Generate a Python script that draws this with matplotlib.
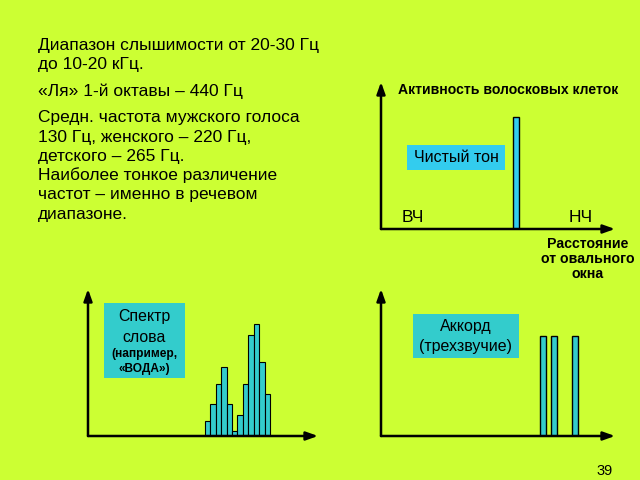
import matplotlib
matplotlib.use("Agg")
import matplotlib.pyplot as plt

plt.rcParams['font.family'] = ['Liberation Sans', 'DejaVu Sans']

# ---------------- data ----------------
intro_lines = ["Диапазон слышимости от 20-30 Гц", "до 10-20 кГц."]
la_lines = ["«Ля» 1-й октавы – 440 Гц"]
voice_lines = ["Средн. частота мужского голоса", "130 Гц, женского – 220 Гц,",
               "детского – 265 Гц.", "Наиболее тонкое различение",
               "частот – именно в речевом", "диапазоне."]

# pure tone (position along basilar membrane, 0..100; activity 0..100)
tone_pos = [57.7]
tone_height = [76]
tone_width = 2.6

# chord (triad)
chord_pos = [69.2, 73.9, 82.9]
chord_height = [68, 68, 68]

# word spectrum ("ВОДА")
spectrum_bins = list(range(12))
spectrum_height = [15, 32, 52, 69, 32, 5, 21, 52, 101, 112, 74, 42]

BG = '#ccff33'
TEAL = '#33cccc'
SKY = '#33ccee'

W, H = 640, 480
fig = plt.figure(figsize=(6.4, 4.8), dpi=100, facecolor=BG)


def fx(x):
    return x / W


def fy(y):
    return 1 - y / H


def make_axes(x0, y0, x1, ytop):
    ax = fig.add_axes([fx(x0), fy(y0), fx(x1 - x0), (y0 - ytop) / H])
    ax.set_facecolor('none')
    for s in ax.spines.values():
        s.set_visible(False)
    ax.set_xticks([])
    ax.set_yticks([])
    ap = dict(arrowstyle='-|>,head_length=0.7,head_width=0.25', lw=1.8,
              color='black', shrinkA=0, shrinkB=0)
    ax.annotate('', xy=(0, 1), xytext=(0, 0), xycoords='axes fraction', arrowprops=ap)
    ax.annotate('', xy=(1, 0), xytext=(0, 0), xycoords='axes fraction', arrowprops=ap)
    return ax


# ---- top right: pure tone ----
ax1 = make_axes(381, 229, 615, 82)
ax1.set_xlim(0, 100)
ax1.set_ylim(0, 100)
ax1.bar(tone_pos, tone_height, width=tone_width, color=SKY, edgecolor='black', lw=1)

# ---- bottom right: chord ----
ax2 = make_axes(381, 436, 615, 289)
ax2.set_xlim(0, 100)
ax2.set_ylim(0, 100)
ax2.bar(chord_pos, chord_height, width=tone_width, color=TEAL, edgecolor='black', lw=1)

# ---- bottom left: spectrum ----
ax3 = make_axes(88, 436, 318, 289)
ax3.set_xlim(-22.17, 20.4)
ax3.set_ylim(0, 147)
ax3.bar(spectrum_bins, spectrum_height, width=1.0, color=TEAL, edgecolor='black', lw=0.8)

# ---- left text block ----
fs = 12.5
line_centres = [44, 63, 90, 116, 136, 155, 174, 193, 213]
all_lines = intro_lines + la_lines + voice_lines
for txt, yc in zip(all_lines, line_centres):
    fig.text(fx(38), fy(yc + 6), txt, fontsize=fs, va='baseline', ha='left')

# ---- chart labels ----
fig.text(fx(398), fy(90), "Активность волосковых клеток", fontsize=10.1, weight='bold',
         va='center', ha='left')
fig.patches.append(plt.Rectangle((fx(407), fy(170)), fx(98), (170 - 145) / H,
                                 transform=fig.transFigure, fc=SKY, ec='none', zorder=0))
fig.text(fx(456), fy(157.5), "Чистый тон", fontsize=11.5, va='center', ha='center')
fig.text(fx(402), fy(217), "ВЧ", fontsize=12.5, va='center', ha='left')
fig.text(fx(569), fy(217), "НЧ", fontsize=12.5, va='center', ha='left')
fig.text(fx(588), fy(259), "Расстояние\nот овального\nокна", fontsize=10.2, weight='bold',
         va='center', ha='center', linespacing=1.1)

fig.patches.append(plt.Rectangle((fx(413), fy(358)), fx(106), (358 - 314) / H,
                                 transform=fig.transFigure, fc=TEAL, ec='none', zorder=0))
fig.text(fx(466), fy(326), "Аккорд", fontsize=11.5, va='center', ha='center')
fig.text(fx(466), fy(346), "(трехзвучие)", fontsize=11.5, va='center', ha='center')

fig.patches.append(plt.Rectangle((fx(104), fy(378)), fx(81), (378 - 303) / H,
                                 transform=fig.transFigure, fc=TEAL, ec='none', zorder=0))
fig.text(fx(144.5), fy(317), "Спектр", fontsize=11.4, va='center', ha='center')
fig.text(fx(144.5), fy(337), "слова", fontsize=11.4, va='center', ha='center')
fig.text(fx(144.5), fy(354), "(например,", fontsize=8.6, weight='bold', va='center', ha='center')
fig.text(fx(144.5), fy(369), "«ВОДА»)", fontsize=8.6, weight='bold', va='center', ha='center')

fig.text(fx(604.5), fy(471), "39", fontsize=10.5, va='center', ha='center')

fig.savefig('out.png', dpi=100, facecolor=BG)
